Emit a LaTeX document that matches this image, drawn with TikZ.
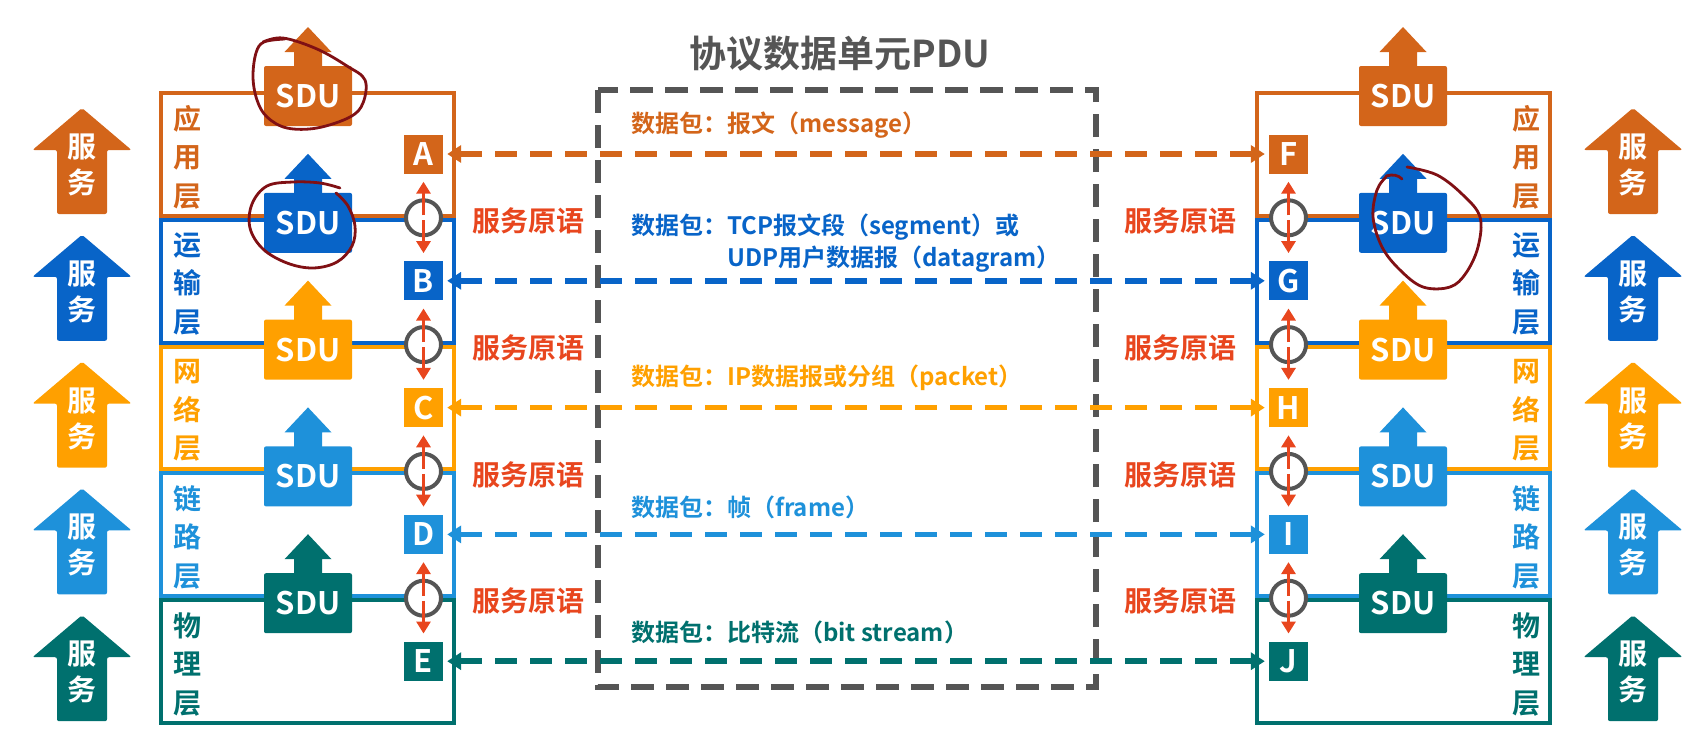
\documentclass[tikz,border=0pt]{standalone}
\usepackage{fontspec}
\setmainfont{Noto Sans CJK SC}[BoldFont={Noto Sans CJK SC Bold}]
\usetikzlibrary{arrows.meta}

\definecolor{appc}{RGB}{211,101,26}
\definecolor{trac}{RGB}{8,100,200}
\definecolor{netc}{RGB}{255,160,0}
\definecolor{linc}{RGB}{30,145,218}
\definecolor{phyc}{RGB}{0,112,110}
\definecolor{primc}{RGB}{232,70,30}
\definecolor{pduc}{RGB}{85,85,85}
\definecolor{inkc}{RGB}{128,16,20}
\newcommand\fsz[1]{\fontsize{#1}{#1}\selectfont\bfseries}

\begin{document}
\begin{tikzpicture}[x=1pt, y=-1pt,
    layer/.style={draw, line width=4pt},
    lname/.style={inner sep=0, align=center, font=\fontsize{28}{38.5}\selectfont\bfseries},
    tag/.style={fill, minimum size=39pt, inner sep=0, text=white, font=\fsz{31}},
    sdu/.style={fill, rounded corners=2pt, minimum width=88pt, minimum height=60pt, inner sep=0, text=white, font=\fsz{31}},
    svc/.style={inner sep=0, align=center, text=white, font=\fontsize{29}{36}\selectfont\bfseries},
    sap/.style={circle, draw=pduc, fill=white, line width=4pt, minimum size=35pt, inner sep=0},
    call/.style={draw=primc, line width=3pt, -{Triangle[width=14pt,length=12pt]}, shorten <=2.5pt, shorten >=8pt},
    prim/.style={text=primc, inner sep=0, font=\fsz{28}},
    pdu/.style={line width=5.5pt, dash pattern=on 22pt off 13pt, {Triangle[width=17pt,length=14pt]}-{Triangle[width=17pt,length=14pt]}, shorten <=4pt, shorten >=4pt},
    pkt/.style={anchor=west, inner sep=0, align=left, font=\fontsize{24}{32}\selectfont\bfseries},
    hand/.style={draw=inkc, line width=2.8pt, line cap=round, line join=round}
  ]
  \useasboundingbox (0,0) rectangle (1707,739);

  % PDU frame and title
  \draw[pduc, line width=6pt, dash pattern=on 23pt off 12pt] (598,90) rectangle (1096,687);
  \node[font=\fsz{37}, text=pduc, inner sep=0] (title) at (840,54) {协议数据单元PDU};

  % five layers on both sides
  \foreach \i/\c/\nm/\l/\r in {0/appc/{应\\用\\层}/A/F, 1/trac/{运\\输\\层}/B/G, 2/netc/{网\\络\\层}/C/H, 3/linc/{链\\路\\层}/D/I, 4/phyc/{物\\理\\层}/E/J}{
    \pgfmathsetmacro\tp{91+126.8*\i}
    \pgfmathsetmacro\bt{\tp+126.8}
    \draw[layer, \c] (161,{\tp+2}) rectangle (454,{\bt-2});
    \draw[layer, \c] (1257,{\tp+2}) rectangle (1550,{\bt-2});
    \node[lname, text=\c] (nmL\i) at (187,{\tp+66}) {\nm};
    \node[lname, text=\c] (nmR\i) at (1526,{\tp+66}) {\nm};
    \node[tag, fill=\c] (\l) at (423.5,{\tp+63}) {\l};
    \node[tag, fill=\c] (\r) at (1288.5,{\tp+63}) {\r};
    \draw[pdu, \c] (\l) -- (\r);
    % service arrows
    \foreach \cx/\sd in {82/L, 1633/R}{
      \fill[\c, rounded corners=2pt] (\cx,{\tp+17}) -- ++(49.5,42) -- ++(-24.5,0) -- ++(0,64) -- ++(-50,0) -- ++(0,-64) -- ++(-24.5,0) -- cycle;
      \node[svc] (sv\sd\i) at (\cx,{\tp+74}) {服\\务};
    }
    % SDU handed up
    \foreach \sx/\sd in {308/L, 1403/R}{
      \fill[\c] ({\sx-14},{\tp-22}) -- ({\sx-14},{\tp-39}) -- ({\sx-23.5},{\tp-39}) -- (\sx,{\tp-64}) -- ({\sx+23.5},{\tp-39}) -- ({\sx+14},{\tp-39}) -- ({\sx+14},{\tp-22}) -- cycle;
      \node[sdu, fill=\c] (sdu\sd\i) at (\sx,{\tp+5}) {SDU};
    }
  }

  % service access points and primitives
  \foreach \k/\u/\d/\uu/\dd in {1/A/B/F/G, 2/B/C/G/H, 3/C/D/H/I, 4/D/E/I/J}{
    \pgfmathsetmacro\by{91+126.8*\k}
    \node[sap] (sapL\k) at (423.5,\by) {};
    \node[sap] (sapR\k) at (1288.5,\by) {};
    \draw[call] (sapL\k.center) -- (\u);
    \draw[call] (sapL\k.center) -- (\d);
    \draw[call] (sapR\k.center) -- (\uu);
    \draw[call] (sapR\k.center) -- (\dd);
    \node[prim] (primL\k) at (528,{\by+3}) {服务原语};
    \node[prim] (primR\k) at (1180,{\by+3}) {服务原语};
  }

  % packet names
  \node[pkt, text=appc] (pktA) at (631,125) {数据包：报文（message）};
  \node[pkt, text=trac] (pktB) at (631,243) {数据包：TCP报文段（segment）或\\\phantom{数据包：}UDP用户数据报（datagram）};
  \node[pkt, text=netc] (pktC) at (631,378) {数据包：IP数据报或分组（packet）};
  \node[pkt, text=linc] (pktD) at (631,507) {数据包：帧（frame）};
  \node[pkt, text=phyc] (pktE) at (631,632) {数据包：比特流（bit stream）};

  % hand-drawn marks
  \draw[hand] plot[smooth, tension=0.6] coordinates {(263,42) (283,38) (317,49) (347,66) (365,80) (363,103) (350,117) (317,128) (287,128) (267,117) (257,100) (253,77) (256,53) (264,42) (285,39)};
  \draw[hand] plot[smooth, tension=0.6] coordinates {(340,188) (320,183) (293,182) (267,186) (252,204) (250,228) (263,249) (287,263) (313,268) (337,262) (352,246) (355,226) (348,206) (336,193)};
  \draw[hand] plot[smooth, tension=0.6] coordinates {(1407,167) (1437,175) (1463,195) (1480,217) (1478,247) (1466,273) (1450,287) (1423,287) (1400,270) (1382,247) (1373,217) (1377,190) (1386,177)};
  \draw[hand] (1386,176) .. controls (1393,174) and (1398,175) .. (1402,179);
\end{tikzpicture}
\end{document}
